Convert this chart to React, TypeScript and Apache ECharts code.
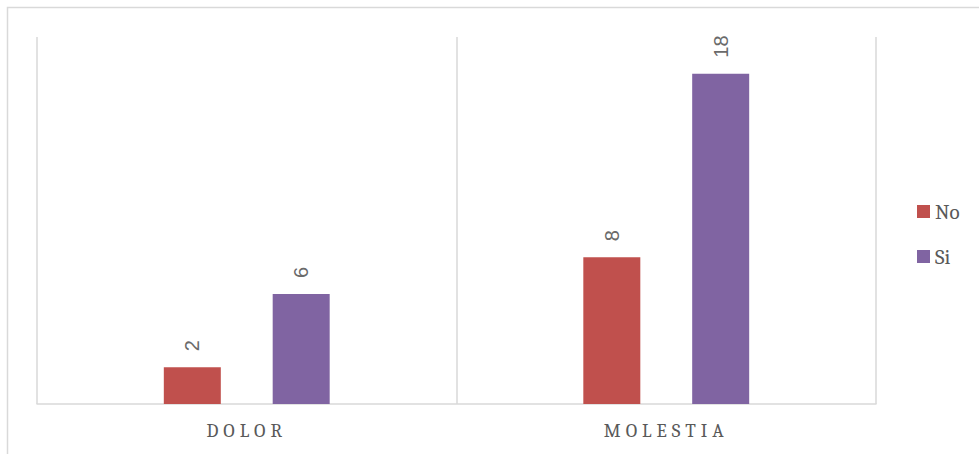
import React, { useEffect, useRef } from "react";
import * as echarts from "echarts";

const categories = ["DOLOR", "MOLESTIA"];
const seriesNames = ["No", "Si"];
const noValues = [2, 8];
const siValues = [6, 18];
const seriesColors = ["#C0504D", "#8064A2"];

const gridColor = "#d9d9d9";
const textColor = "#595959";
const serif = "Cambria, 'Liberation Serif', 'DejaVu Serif', serif";

export default function App() {
  const ref = useRef<HTMLDivElement>(null);

  useEffect(() => {
    if (!ref.current) return;
    const chart = echarts.init(ref.current, null, { renderer: "svg" });

    const dataLabel = {
      show: true,
      position: "top",
      rotate: 90,
      align: "left",
      verticalAlign: "middle",
      distance: 16,
      color: "#6a6a6a",
      fontSize: 20,
      fontFamily: "'Liberation Sans', Arial, sans-serif",
    };

    chart.setOption({
      animation: false,
      backgroundColor: "#ffffff",
      graphic: [
        {
          type: "rect",
          shape: { x: 7.5, y: 7.5, width: 1100, height: 600 },
          style: { fill: "none", stroke: gridColor, lineWidth: 1.5 },
          silent: true,
        },
      ],
      grid: { left: 37, right: 103, top: 37, bottom: 50, containLabel: false },
      legend: {
        orient: "vertical",
        left: 917,
        top: 201,
        padding: 0,
        itemWidth: 13,
        itemHeight: 13,
        itemGap: 24,
        icon: "rect",
        data: seriesNames,
        textStyle: { color: textColor, fontSize: 21, fontFamily: serif },
      },
      xAxis: {
        type: "category",
        data: categories,
        axisTick: { show: false },
        axisLine: { show: true, lineStyle: { color: gridColor, width: 1.5 } },
        splitLine: { show: true, interval: 0, lineStyle: { color: gridColor, width: 1.5 } },
        axisLabel: {
          color: textColor,
          fontSize: 19,
          fontFamily: serif,
          margin: 17,
        },
      },
      yAxis: {
        type: "value",
        min: 0,
        max: 20,
        show: false,
        splitLine: { show: false },
      },
      series: [
        {
          name: seriesNames[0],
          type: "bar",
          data: noValues,
          barWidth: 57,
          barGap: "91%",
          itemStyle: { color: seriesColors[0] },
          label: dataLabel,
        },
        {
          name: seriesNames[1],
          type: "bar",
          data: siValues,
          barWidth: 57,
          barGap: "91%",
          itemStyle: { color: seriesColors[1] },
          label: dataLabel,
        },
      ],
    });

    // Spread the category labels out a little
    const spaceLabels = () => {
      const texts = ref.current?.querySelectorAll("text") ?? [];
      texts.forEach((t) => {
        if (categories.includes((t.textContent || "").trim())) {
          (t as SVGTextElement).style.letterSpacing = "5px";
        }
      });
    };
    spaceLabels();
    chart.on("finished", spaceLabels);

    return () => {
      chart.dispose();
    };
  }, []);

  return (
    <div
      ref={ref}
      style={{ position: "fixed", left: 0, top: 0, width: 979, height: 454 }}
    />
  );
}
